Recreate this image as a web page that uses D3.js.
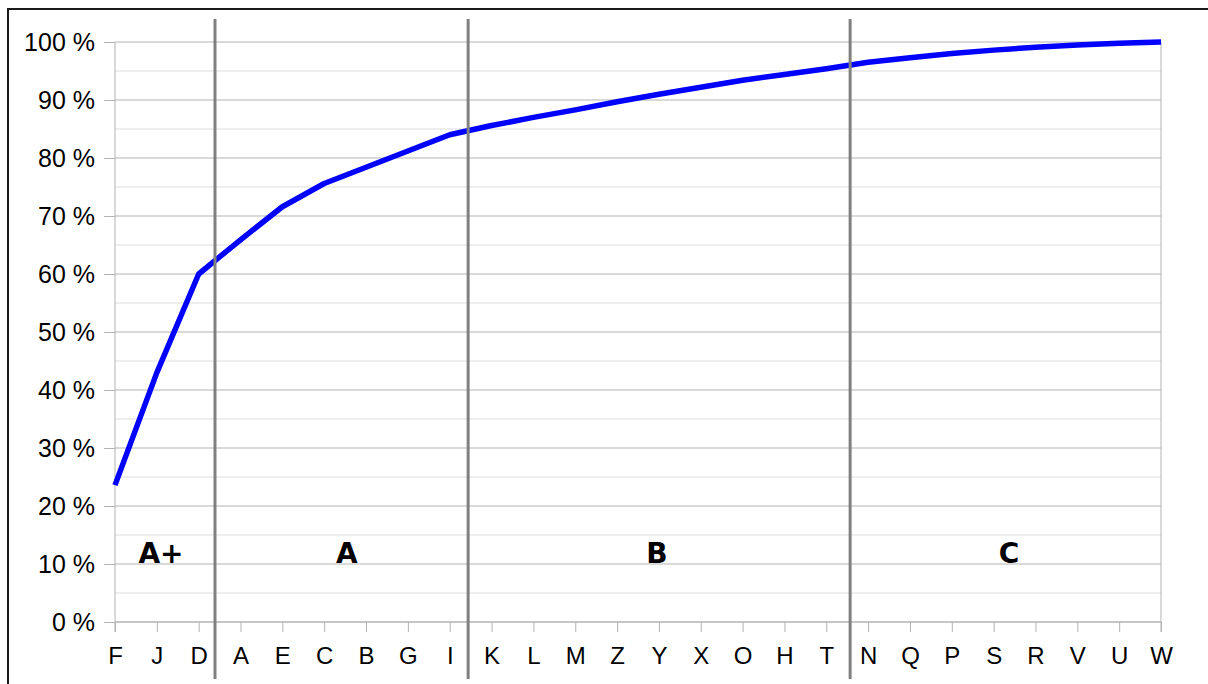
<!DOCTYPE html>
<html>
<head>
<meta charset="utf-8">
<script src="https://cdn.jsdelivr.net/npm/d3@7"></script>
<style>
  body { margin: 0; background: #ffffff; }
  .axis text { font-family: "Liberation Sans", Arial, sans-serif; font-size: 24px; fill: #000; }
  .axis.y text { font-size: 25px; }
  .axis line, .axis path { stroke: #b3b3b3; }
</style>
</head>
<body>
<div class="chart"></div>
<script>
// categories in pareto order
var categories = ["F", "J", "D", "A", "E", "C", "B", "G", "I", "K", "L", "M", "Z",
                  "Y", "X", "O", "H", "T", "N", "Q", "P", "S", "R", "V", "U", "W"];
// cumulative share, percent
var cumulative = [23.6, 43.0, 60.0, 65.9, 71.6, 75.6, 78.4, 81.2, 84.0, 85.6, 87.0, 88.3, 89.7,
                  91.0, 92.2, 93.4, 94.4, 95.4, 96.5, 97.3, 98.0, 98.6, 99.1, 99.5, 99.8, 100];
// class borders (in category index units) and class labels
var classBorders = [2.39, 8.44, 17.57];
var classNames = ["A+", "A", "B", "C"];
var classLabelPos = [1.10, 5.54, 12.95, 21.37];
var yTicks = [0, 10, 20, 30, 40, 50, 60, 70, 80, 90, 100];
var yMinor = [5, 15, 25, 35, 45, 55, 65, 75, 85, 95];

var margin = {top: 42, left: 115},
    width = 1046,
    height = 580;

var svg = d3.select(".chart").append("svg")
    .attr("width", 1208)
    .attr("height", 684);

// outer frame
svg.append("rect")
    .attr("x", 8).attr("y", 9)
    .attr("width", 1220).attr("height", 700)
    .attr("fill", "none")
    .attr("stroke", "#1a1a1a")
    .attr("stroke-width", 2);

var g = svg.append("g")
    .attr("transform", "translate(" + margin.left + "," + margin.top + ")");

var x = d3.scalePoint().domain(categories).range([0, width]);
var xi = d3.scaleLinear().domain([0, categories.length - 1]).range([0, width]);
var y = d3.scaleLinear().domain([0, 100]).range([height, 0]);

// minor grid
g.append("g").selectAll("line")
    .data(yMinor).enter().append("line")
    .attr("x1", 0).attr("x2", width)
    .attr("y1", function(d) { return y(d); })
    .attr("y2", function(d) { return y(d); })
    .attr("stroke", "#dddddd").attr("stroke-width", 1);

// major grid
g.append("g").selectAll("line")
    .data(yTicks).enter().append("line")
    .attr("x1", 0).attr("x2", width)
    .attr("y1", function(d) { return y(d); })
    .attr("y2", function(d) { return y(d); })
    .attr("stroke", "#b3b3b3").attr("stroke-width", 1);

// right border of plot area
g.append("line")
    .attr("x1", width).attr("x2", width)
    .attr("y1", 0).attr("y2", height + 10)
    .attr("stroke", "#b3b3b3");

// axes
var yaxis = d3.axisLeft(y)
    .tickValues(yTicks)
    .tickSize(11)
    .tickPadding(9)
    .tickFormat(function(d) { return d + " %"; });

var xaxis = d3.axisBottom(x)
    .tickSize(10)
    .tickPadding(15);

g.append("g")
    .attr("class", "axis x")
    .attr("transform", "translate(0," + height + ")")
    .call(xaxis)
    .call(function(a) { a.select(".domain").remove(); });

g.append("line")
    .attr("x1", 0).attr("x2", width)
    .attr("y1", height).attr("y2", height)
    .attr("stroke", "#b3b3b3");

g.append("g")
    .attr("class", "axis y")
    .call(yaxis)
    .call(function(a) { a.select(".domain").remove(); });

g.append("line")
    .attr("x1", 0).attr("x2", 0)
    .attr("y1", 0).attr("y2", height + 10)
    .attr("stroke", "#b3b3b3");

// cumulative line
var line = d3.line()
    .x(function(d, i) { return x(categories[i]); })
    .y(function(d) { return y(d); });

g.append("path")
    .datum(cumulative)
    .attr("fill", "none")
    .attr("stroke", "#0000ff")
    .attr("stroke-width", 5.5)
    .attr("stroke-linejoin", "round")
    .attr("d", line);

// class borders
g.append("g").selectAll("line")
    .data(classBorders).enter().append("line")
    .attr("x1", function(d) { return xi(d); })
    .attr("x2", function(d) { return xi(d); })
    .attr("y1", 19 - margin.top)
    .attr("y2", 679 - margin.top)
    .attr("stroke", "#808080")
    .attr("stroke-width", 3);

// class labels
g.append("g").selectAll("text")
    .data(classNames).enter().append("text")
    .attr("x", function(d, i) { return xi(classLabelPos[i]); })
    .attr("y", y(10.2))
    .attr("text-anchor", "middle")
    .style("font-family", "'DejaVu Sans', sans-serif")
    .style("font-weight", "bold")
    .style("font-size", "28px")
    .text(function(d) { return d; });
</script>
</body>
</html>
